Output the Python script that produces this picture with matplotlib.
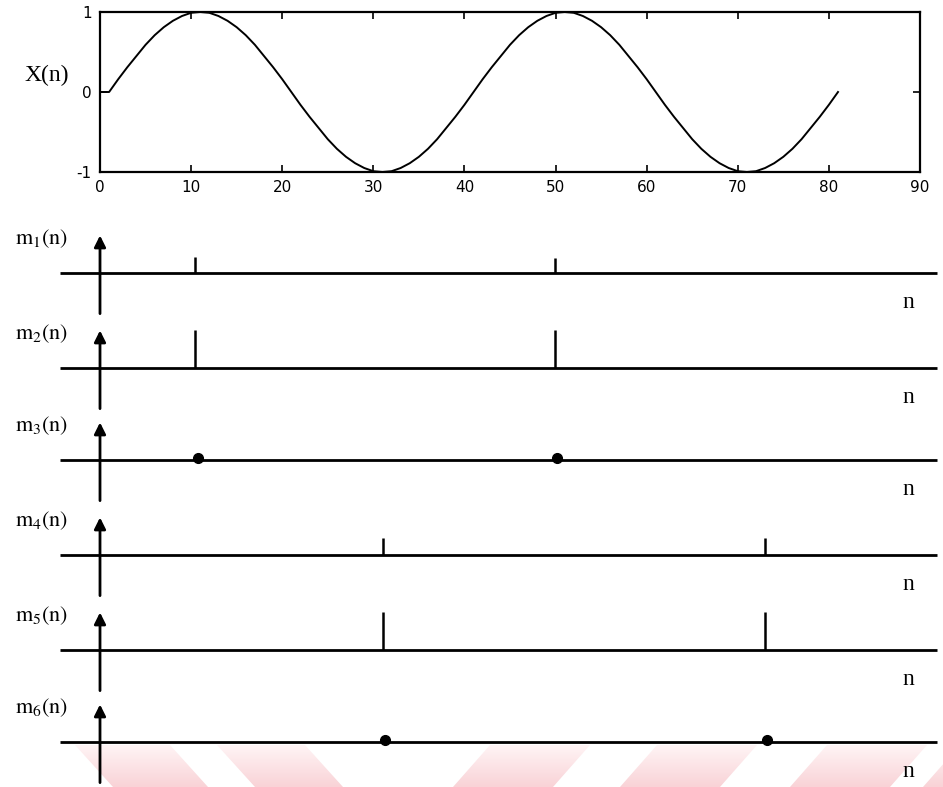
import numpy as np
import matplotlib.pyplot as plt
from matplotlib.patches import Polygon
from matplotlib.colors import LinearSegmentedColormap

# sampled signal x(n), n = 0..81
n_vals = list(range(0, 82))
x_vals = [0.00,
          0.00, 0.16, 0.31, 0.45, 0.59, 0.71, 0.81, 0.89, 0.95, 0.99, 1.00,
          0.99, 0.95, 0.89, 0.81, 0.71, 0.59, 0.45, 0.31, 0.16, 0.00,
          -0.16, -0.31, -0.45, -0.59, -0.71, -0.81, -0.89, -0.95, -0.99, -1.00,
          -0.99, -0.95, -0.89, -0.81, -0.71, -0.59, -0.45, -0.31, -0.16, 0.00,
          0.16, 0.31, 0.45, 0.59, 0.71, 0.81, 0.89, 0.95, 0.99, 1.00,
          0.99, 0.95, 0.89, 0.81, 0.71, 0.59, 0.45, 0.31, 0.16, 0.00,
          -0.16, -0.31, -0.45, -0.59, -0.71, -0.81, -0.89, -0.95, -0.99, -1.00,
          -0.99, -0.95, -0.89, -0.81, -0.71, -0.59, -0.45, -0.31, -0.16, 0.00]
x_ticks = [0, 10, 20, 30, 40, 50, 60, 70, 80, 90]
y_ticks = [-1, 0, 1]

# marker sequences m1..m6: positions, heights, kind
panel_labels = [r"$\mathrm{m}_{1}\mathrm{(n)}$", r"$\mathrm{m}_{2}\mathrm{(n)}$",
                r"$\mathrm{m}_{3}\mathrm{(n)}$", r"$\mathrm{m}_{4}\mathrm{(n)}$",
                r"$\mathrm{m}_{5}\mathrm{(n)}$", r"$\mathrm{m}_{6}\mathrm{(n)}$"]
m_pos = [[10.4, 49.9], [10.4, 49.9], [10.8, 50.2],
         [31.1, 73.0], [31.1, 73.0], [31.3, 73.2]]
m_height = [[0.42, 0.40], [1.0, 1.0], [0, 0],
            [0.45, 0.45], [1.0, 1.0], [0, 0]]
m_kind = ["stem", "stem", "dot", "stem", "stem", "dot"]

plt.rcParams["mathtext.fontset"] = "stix"
plt.rcParams["axes.unicode_minus"] = False

W, H = 943, 787
fig = plt.figure(figsize=(W / 100, H / 100), dpi=100)

# faint pink watermark stripes at the bottom
bg = fig.add_axes([0, 0, 1, 1], zorder=-5)
bg.set_xlim(0, W)
bg.set_ylim(H, 0)
bg.axis("off")
stripes = [
    [(75, 745), (170, 745), (208, 787), (113, 787)],
    [(217, 745), (305, 745), (343, 787), (255, 787)],
    [(490, 745), (590, 745), (553, 787), (453, 787)],
    [(657, 745), (757, 745), (720, 787), (620, 787)],
    [(827, 745), (927, 745), (890, 787), (790, 787)],
    [(960, 745), (1060, 745), (1023, 787), (923, 787)],
]
wm_cmap = LinearSegmentedColormap.from_list("wm", ["#fff4f5", "#f9d3d7"])
grad = np.linspace(1, 0, 50).reshape(-1, 1)
for pts in stripes:
    poly = Polygon(pts, closed=True, facecolor="none", edgecolor="none")
    bg.add_patch(poly)
    im = bg.imshow(grad, extent=(0, W, 787, 745), aspect="auto",
                   cmap=wm_cmap, origin="lower", vmin=0, vmax=1)
    im.set_clip_path(poly)

# top panel: the signal
ax = fig.add_axes([100 / W, 1 - 172 / H, 820 / W, 160 / H])
ax.plot(n_vals, x_vals, color="black", lw=1.4)
ax.set_xlim(0, 90)
ax.set_ylim(-1, 1)
ax.set_xticks(x_ticks)
ax.set_yticks(y_ticks)
ax.tick_params(direction="in", top=True, right=True, length=5, width=1.2,
               labelsize=11, pad=6)
for s in ax.spines.values():
    s.set_linewidth(1.6)
fig.text(47 / W, 1 - 75 / H, "X(n)", family="Liberation Serif", fontsize=17,
         ha="center", va="center")

# lower panels
ppu = 820 / 90
line_px = [273, 368, 460, 555, 650, 742]
for i in range(6):
    y0 = line_px[i]
    pax = fig.add_axes([0, 1 - (y0 + 46) / H, 1, 92 / H])
    pax.set_xlim(-100 / ppu, (W - 100) / ppu)
    pax.set_ylim(-1.2, 1.2)
    pax.axis("off")
    pax.plot([-40 / ppu, 837 / ppu], [0, 0], color="black", lw=2.0,
             solid_capstyle="butt")
    pax.annotate("", xy=(0, 0.98), xytext=(0, -1.06),
                 arrowprops=dict(arrowstyle="-|>", color="black", lw=2.0,
                                 mutation_scale=17, shrinkA=0, shrinkB=0))
    if m_kind[i] == "stem":
        pax.vlines(m_pos[i], 0, m_height[i], color="black", lw=1.8)
    else:
        pax.plot(m_pos[i], [0.06] * len(m_pos[i]), "o", color="black",
                 markersize=7)
    pax.text(-85 / ppu, 0.89, panel_labels[i], fontsize=16,
             ha="left", va="center")
    pax.text(808 / ppu, -0.78, "n", family="Liberation Serif", fontsize=17,
             ha="center", va="center")

fig.savefig("out.png", dpi=100)
